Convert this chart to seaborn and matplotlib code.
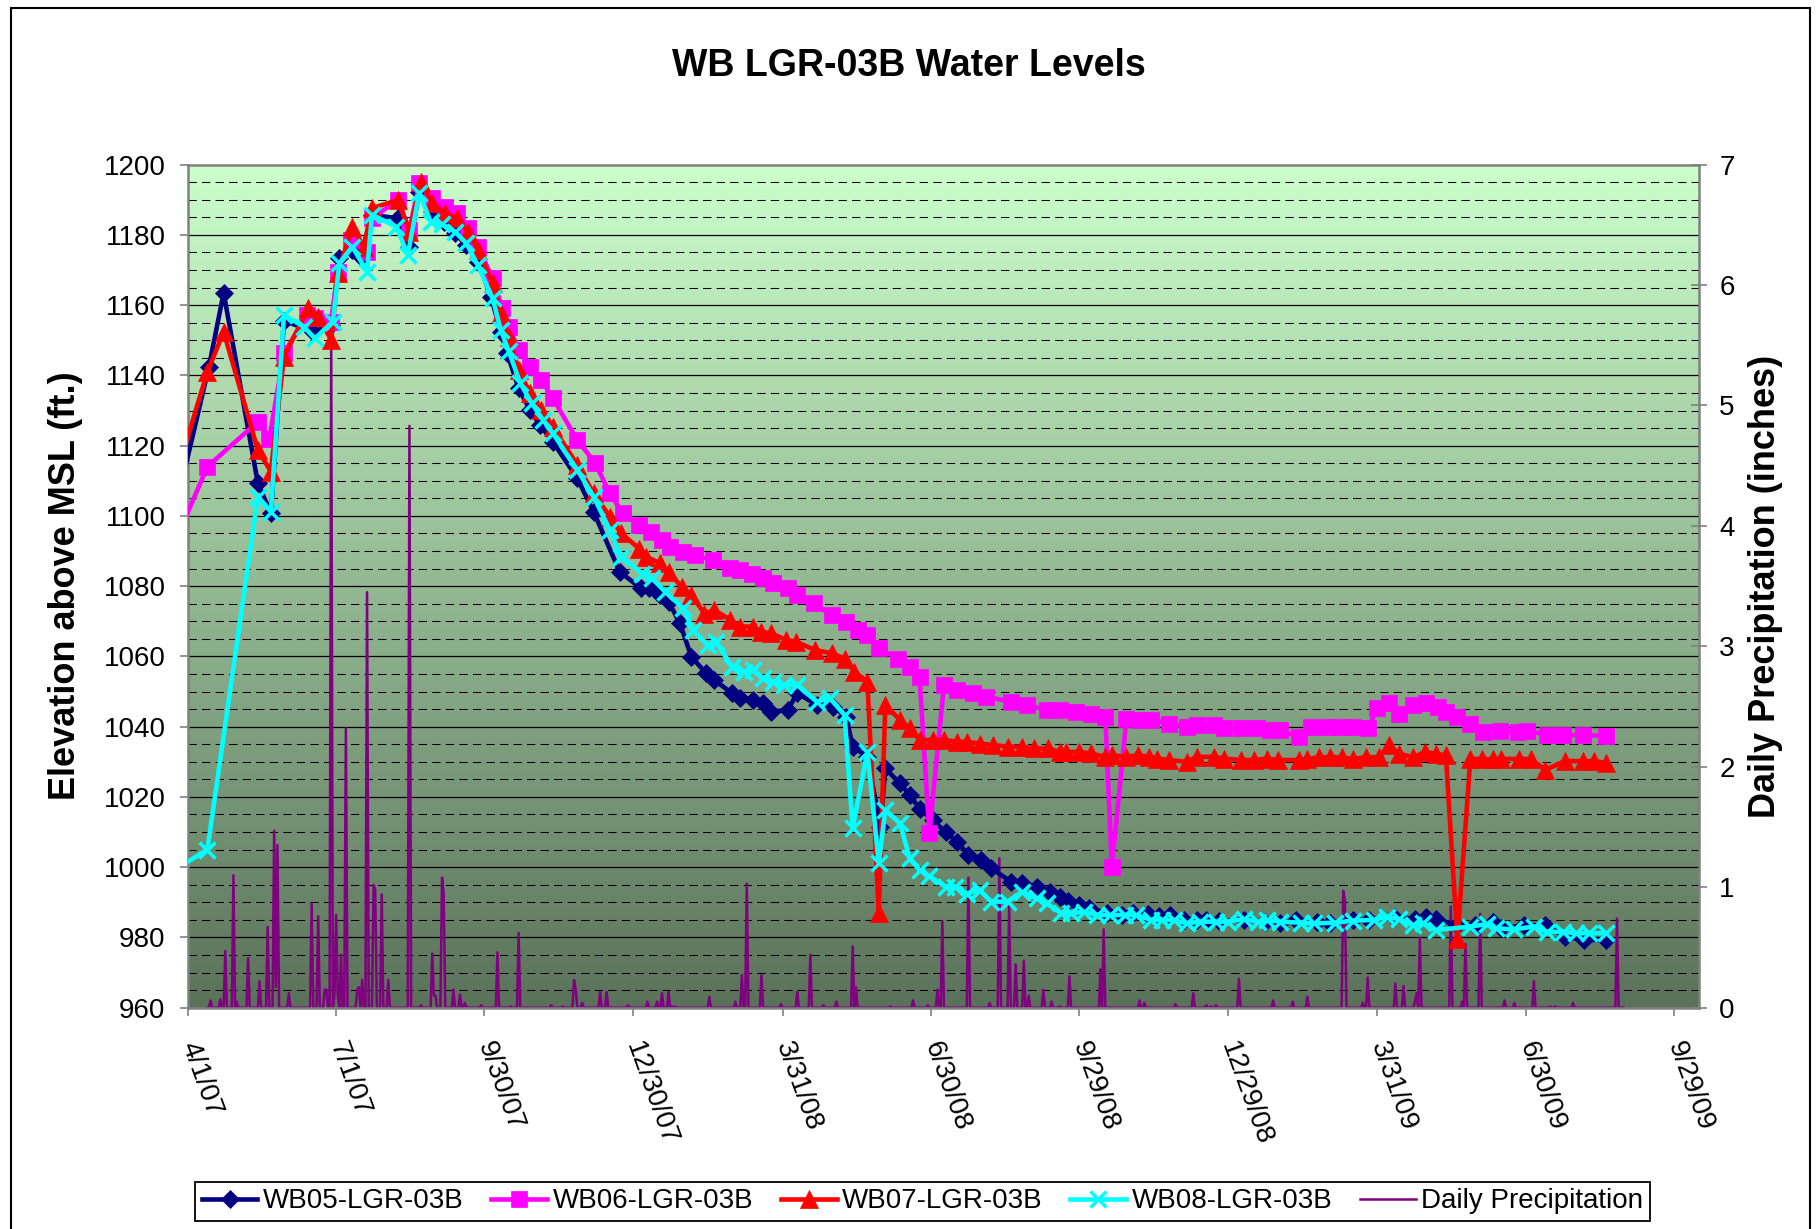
import numpy as np
import pandas as pd
import matplotlib
matplotlib.use("Agg")
import matplotlib.pyplot as plt
import matplotlib.patches as mpatches
import seaborn as sns

# ---------------- data ----------------
START = pd.Timestamp("2007-04-01")   # day 0 of all *_day arrays
X_END_DAY = 927                      # right end of the date axis

wb05_day = [-6, 13, 22, 43, 51, 59, 77, 88, 93, 101, 106, 113, 129, 136, 142, 150, 157, 164, 171, 178,
            186, 192, 196, 203, 210, 216, 224, 239, 249, 265, 278, 283, 290, 295, 302, 309, 318, 323,
            334, 339, 347, 353, 358, 368, 374, 386, 396, 404, 408, 417, 425, 428, 437, 443, 449, 457,
            465, 472, 479, 487, 493, 505, 512, 521, 529, 535, 540, 547, 553, 564, 573, 580, 589, 596,
            603, 611, 619, 625, 633, 648, 661, 670, 680, 693, 701, 715, 725, 740, 753, 760, 766, 779,
            790, 801, 806, 820, 833, 845, 857, 870]
wb05_ft = [1105, 1142.5, 1163.5, 1109.3, 1100.7, 1155.6, 1152.4, 1154.3, 1173.5, 1175.7, 1173.8, 1185.7,
           1184.7, 1176.6, 1192.3, 1185.6, 1183.7, 1180.5, 1177, 1172.4, 1162.4, 1152.4, 1146.3, 1136.3,
           1130.1, 1125.9, 1121.1, 1110.7, 1101.2, 1084.1, 1079.4, 1079.4, 1077.5, 1075.6, 1069.4,
           1059.9, 1055.2, 1053.3, 1049.5, 1048.1, 1047.6, 1046.6, 1044.3, 1044.7, 1049.5, 1046.2,
           1045.7, 1042.8, 1034.3, 1031.5, 1011.5, 1028.1, 1023.9, 1020.5, 1016.7, 1013.4, 1010,
           1007.3, 1003.5, 1002, 999.7, 995.9, 995.4, 994.5, 993, 991.6, 990.5, 989.2, 988.3, 987,
           986.5, 986.9, 986.8, 986, 986.3, 985.1, 985, 985, 984.6, 985, 984.5, 984, 985, 984.5, 984,
           985, 985, 985.9, 985.2, 985.7, 985.2, 983.5, 983.5, 984.5, 982.6, 983.5, 983.5, 980.2,
           979.3, 979.3]

wb06_day = [-6, 12, 43, 50, 59, 73, 78, 88, 92, 100, 110, 113, 129, 136, 142, 150, 158, 165, 172, 178,
            187, 193, 197, 203, 210, 217, 224, 239, 250, 259, 267, 277, 284, 291, 296, 304, 311, 322,
            333, 339, 346, 353, 359, 368, 374, 384, 395, 404, 411, 417, 424, 436, 443, 449, 455, 464,
            472, 482, 490, 505, 515, 527, 535, 545, 554, 563, 567, 576, 584, 591, 602, 613, 619, 630,
            636, 646, 656, 664, 670, 682, 689, 699, 707, 715, 724, 730, 737, 743, 752, 760, 767, 772,
            779, 787, 795, 805, 816, 822, 834, 844, 856, 870]
wb06_ft = [1094.5, 1114, 1126.8, 1122, 1146.3, 1157.2, 1156.3, 1155.3, 1169.5, 1178.5, 1175.2, 1184.7,
           1189.9, 1181.4, 1194.7, 1190.4, 1188, 1186.1, 1181.9, 1176.6, 1167.6, 1159.1, 1153.9,
           1147.2, 1142.5, 1138.7, 1133.5, 1121.6, 1115, 1106.4, 1100.7, 1097.4, 1095.5, 1093.1,
           1091.2, 1089.8, 1088.9, 1087.4, 1085.1, 1084.6, 1083.6, 1082.2, 1080.8, 1079.4, 1077.5,
           1075.1, 1071.8, 1069.9, 1067.5, 1066.1, 1062.3, 1059.4, 1057.1, 1054.2, 1009.6, 1051.8,
           1050.4, 1049.5, 1048.5, 1047.1, 1046.2, 1044.7, 1044.7, 1044.2, 1043.7, 1042.8, 1000.1,
           1042.3, 1041.9, 1041.9, 1040.9, 1040, 1040.4, 1040.4, 1039.5, 1039.5, 1039.5, 1039, 1039,
           1037.1, 1040, 1040, 1040, 1040, 1039.5, 1045.2, 1046.6, 1043.7, 1046.1, 1046.6, 1045.6,
           1044.2, 1042.8, 1040.9, 1038.4, 1038.9, 1038.4, 1038.9, 1037.6, 1037.6, 1037.6, 1037.4]

wb07_day = [-6, 12, 22, 43, 51, 59, 74, 80, 88, 92, 101, 108, 113, 129, 136, 143, 150, 158, 165, 172,
            178, 187, 192, 197, 203, 210, 217, 224, 239, 249, 259, 266, 277, 281, 290, 295, 303, 309,
            317, 323, 333, 339, 347, 352, 358, 367, 373, 385, 395, 403, 409, 417, 424, 428, 437, 443,
            449, 457, 464, 472, 478, 486, 494, 503, 512, 519, 528, 535, 539, 547, 554, 563, 567, 576,
            583, 590, 595, 602, 613, 619, 630, 636, 646, 654, 662, 669, 682, 687, 694, 701, 708, 715,
            723, 731, 737, 743, 752, 759, 766, 772, 779, 787, 794, 801, 806, 817, 824, 833, 845, 856,
            863, 870]
wb07_ft = [1113.3, 1141, 1152.4, 1118.7, 1112.6, 1145.3, 1159.1, 1156.7, 1150.1, 1169.1, 1182.3,
           1176.6, 1187.6, 1189.9, 1180.9, 1195.1, 1189, 1186.1, 1184.7, 1180.9, 1175.7, 1166.2,
           1157.7, 1151, 1141.5, 1134.9, 1130.1, 1125.4, 1114.5, 1106.4, 1099.8, 1095, 1090.7, 1088.4,
           1086.5, 1084.1, 1079.8, 1077.5, 1072.2, 1073.2, 1070.4, 1068.5, 1068.5, 1067, 1066.6,
           1064.7, 1064.2, 1061.8, 1060.9, 1059.4, 1055.6, 1052.8, 987, 1046.2, 1041.9, 1039.5,
           1036.2, 1036.2, 1036.2, 1035.7, 1035.7, 1035.2, 1034.8, 1034.3, 1034.3, 1033.8, 1033.8,
           1032.8, 1032.8, 1032.8, 1032.4, 1031.4, 1031.9, 1031.4, 1031.9, 1031.4, 1030.9, 1030.5,
           1030, 1031.4, 1031.4, 1030.9, 1030.5, 1030.5, 1030.9, 1030.5, 1030.5, 1030.8, 1031.3,
           1031.3, 1031.3, 1030.8, 1031.3, 1031.3, 1034.8, 1032.3, 1031.3, 1032.8, 1032.3, 1031.8,
           979.5, 1030.8, 1030.8, 1030.8, 1030.8, 1030.8, 1030.8, 1027.7, 1030.2, 1030.2, 1030.2,
           1029.7]

wb08_day = [-6, 12, 43, 51, 59, 71, 78, 89, 93, 101, 110, 113, 128, 135, 142, 149, 156, 164, 171, 178,
            187, 192, 197, 204, 211, 218, 224, 239, 249, 259, 266, 279, 285, 293, 304, 310, 319, 324,
            334, 341, 347, 353, 359, 366, 374, 386, 394, 403, 408, 417, 424, 428, 437, 443, 449, 455,
            465, 471, 478, 486, 493, 503, 512, 521, 527, 536, 542, 550, 558, 566, 575, 582, 591, 598,
            605, 613, 621, 631, 638, 648, 657, 662, 670, 683, 691, 704, 715, 728, 736, 743, 752, 758,
            766, 787, 797, 803, 814, 826, 834, 844, 852, 860, 870]
wb08_ft = [999.8, 1005, 1105.5, 1101.2, 1157.2, 1153.9, 1150.5, 1155.3, 1171.9, 1176.6, 1169.5, 1185.7,
           1182.3, 1174.3, 1192, 1183.7, 1183, 1180.9, 1177.6, 1171.3, 1162, 1153, 1146.8, 1137.8,
           1132.1, 1127.3, 1123.5, 1113.1, 1105.5, 1096, 1088.4, 1083.6, 1082.2, 1078.4, 1073.7,
           1067.5, 1063.2, 1064.2, 1057.1, 1055.7, 1056.1, 1053.8, 1052.8, 1051.9, 1051.9, 1047.1,
           1048.1, 1043.3, 1011.1, 1032.9, 1001.1, 1016.3, 1012.5, 1002.5, 999.2, 997.5, 994.4,
           994.4, 992.5, 993.5, 990.2, 990.2, 993, 991.1, 989.7, 986.9, 986.9, 987.3, 986.4, 986.4,
           986.4, 986.4, 985, 985, 985, 984, 984.5, 984.5, 984.5, 985.2, 984.5, 985, 984.5, 984.2,
           984, 984.2, 984.8, 985, 985.9, 985.2, 983.5, 984, 982.1, 983.1, 983.8, 982.6, 982.3, 983.1,
           981.6, 981.6, 981.2, 981.2, 981.2]

# daily precipitation: record runs from day 12 to day 881, rain days listed below (others are 0)
PRECIP_FIRST_DAY, PRECIP_LAST_DAY = 12, 881
rain_day = [14, 20, 23, 28, 30, 37, 44, 49, 53, 54, 55, 62, 76, 80, 84, 85, 88, 90, 91, 92, 94, 97,
            104, 105, 107, 110, 114, 115, 119, 123, 136, 143, 150, 151, 152, 156, 157, 163, 167, 170,
            180, 190, 198, 203, 223, 230, 237, 238, 242, 253, 257, 270, 282, 288, 291, 295, 297, 299,
            320, 336, 340, 343, 352, 364, 374, 382, 390, 398, 408, 410, 431, 445, 454, 460, 463, 479,
            492, 498, 504, 508, 513, 516, 525, 530, 535, 541, 560, 562, 584, 587, 606, 617, 625, 628,
            631, 645, 666, 678, 687, 709, 710, 721, 724, 741, 746, 753, 754, 756, 775, 782, 784, 793,
            808, 814, 826, 836, 839, 850, 877]
rain_in = [0.06, 0.07, 0.47, 1.10, 0.05, 0.41, 0.22, 0.67, 1.47, 0.17, 1.35, 0.12, 0.86, 0.76, 0.15,
           0.15, 5.6, 0.1, 0.77, 0.1, 0.44, 2.32, 0.15, 0.17, 0.23, 3.45, 1.02, 0.98, 0.94, 0.23, 4.83,
           0.02, 0.45, 0.1, 0.1, 1.08, 0.95, 0.15, 0.11, 0.04, 0.02, 0.46, 0.01, 0.62, 0.02, 0.01,
           0.23, 0.15, 0.04, 0.13, 0.13, 0.02, 0.05, 0.05, 0.12, 0.13, 0.01, 0.01, 0.09, 0.05, 0.27,
           1.03, 0.27, 0.03, 0.13, 0.44, 0.02, 0.05, 0.51, 0.17, 0.01, 0.06, 0.02, 0.15, 0.72, 1.08,
           0.04, 1.24, 0.85, 0.36, 0.39, 0.10, 0.15, 0.05, 0.01, 0.26, 0.32, 0.65, 0.06, 0.04, 0.03,
           0.12, 0.02, 0.01, 0.02, 0.24, 0.06, 0.05, 0.09, 0.97, 0.9, 0.04, 0.25, 0.2, 0.18, 0.05,
           0.12, 0.58, 0.84, 0.05, 0.53, 0.78, 0.06, 0.04, 0.22, 0.01, 0.01, 0.04, 0.74]

x_tick_labels = ["4/1/07", "7/1/07", "9/30/07", "12/30/07", "3/31/08", "6/30/08",
                 "9/29/08", "12/29/08", "3/31/09", "6/30/09", "9/29/09"]
x_tick_dates = ["2007-04-01", "2007-07-01", "2007-09-30", "2007-12-30", "2008-03-31", "2008-06-30",
                "2008-09-29", "2008-12-29", "2009-03-31", "2009-06-30", "2009-09-29"]
elev_ticks = [960, 980, 1000, 1020, 1040, 1060, 1080, 1100, 1120, 1140, 1160, 1180, 1200]
elev_minor_step = 5
precip_ticks = [0, 1, 2, 3, 4, 5, 6, 7]

series_names = ["WB05-LGR-03B", "WB06-LGR-03B", "WB07-LGR-03B", "WB08-LGR-03B"]
series_colors = ["#000080", "#FF00FF", "#FF0000", "#00FFFF"]
series_markers = ["D", "s", "^", "x"]
series_msize = [9, 12, 12.5, 11.5]
precip_color = "#800080"


def to_dates(days):
    return START + pd.to_timedelta(np.asarray(days, dtype=float), unit="D")


# ---------------- figure ----------------
plt.rcParams["font.family"] = ["Liberation Sans", "DejaVu Sans"]

W, H = 1818, 1229
fig = plt.figure(figsize=(W / 100, H / 100), dpi=100)
fig.patch.set_facecolor("white")

left, right, top, bottom = 187.8 / W, 1698.5 / W, 1 - 164.6 / H, 1 - 1007.7 / H
pos = [left, bottom, right - left, top - bottom]

# background: gradient + grid
bg = fig.add_axes(pos)
bg.set_zorder(0)
t = np.linspace(0, 1, 256)[:, None, None]
c_top = np.array([204, 255, 204]) / 255
c_bot = np.array([90, 114, 90]) / 255
grad = c_top[None, None, :] * (1 - t) + c_bot[None, None, :] * t
bg.imshow(grad, aspect="auto", extent=(0, 1, elev_ticks[0], elev_ticks[-1]),
          origin="upper", interpolation="bilinear")
for v in np.arange(elev_ticks[0], elev_ticks[-1], elev_minor_step):
    if v in elev_ticks:
        if v != elev_ticks[0]:
            bg.axhline(v, color="black", lw=0.9)
    else:
        bg.axhline(v, color="black", lw=0.75, linestyle=(0, (8, 5)))
bg.set_xlim(0, 1)
bg.set_ylim(elev_ticks[0], elev_ticks[-1])
bg.axis("off")

# precipitation axes (host, shares date axis)
axP = fig.add_axes(pos)
axP.set_zorder(1)
axP.patch.set_visible(False)

p_days = np.arange(PRECIP_FIRST_DAY, PRECIP_LAST_DAY + 1)
p_vals = np.zeros(len(p_days))
for d, v in zip(rain_day, rain_in):
    p_vals[d - PRECIP_FIRST_DAY] = v
sns.lineplot(x=to_dates(p_days), y=p_vals, ax=axP, color=precip_color, linewidth=1.8,
             estimator=None, sort=False, label="Daily Precipitation")

# water levels
axW = axP.twinx()
axW.set_zorder(2)
axW.patch.set_visible(False)
for name, days, vals, col, mk, ms in zip(
        series_names, [wb05_day, wb06_day, wb07_day, wb08_day],
        [wb05_ft, wb06_ft, wb07_ft, wb08_ft], series_colors, series_markers, series_msize):
    sns.lineplot(x=to_dates(days), y=vals, ax=axW, color=col, linewidth=3.3,
                 marker=mk, markersize=ms, markeredgecolor=col, markerfacecolor=col,
                 markeredgewidth=2.5 if mk == "x" else 0.5,
                 estimator=None, sort=False, label=name)

for a in (axP, axW):
    if a.get_legend() is not None:
        a.get_legend().remove()

# axes limits / ticks
axP.set_xlim(START, START + pd.Timedelta(days=X_END_DAY))
axP.set_ylim(precip_ticks[0], precip_ticks[-1])
axW.set_ylim(elev_ticks[0], elev_ticks[-1])

axP.yaxis.tick_right()
axP.yaxis.set_label_position("right")
axP.set_yticks(precip_ticks)
axP.set_yticklabels([str(v) for v in precip_ticks])
axP.tick_params(axis="y", direction="inout", length=12, width=1.2, color="#808080",
                pad=9, labelsize=20)

axW.yaxis.tick_left()
axW.yaxis.set_label_position("left")
axW.set_yticks(elev_ticks)
axW.set_yticklabels([str(v) for v in elev_ticks])
axW.tick_params(axis="y", direction="out", length=6, width=1.2, color="#808080",
                pad=10, labelsize=20)
axW.minorticks_off()

axP.set_xticks(pd.to_datetime(x_tick_dates))
axP.set_xticklabels(x_tick_labels, rotation=-70, ha="left", va="center",
                    rotation_mode="anchor", fontsize=20)
axP.tick_params(axis="x", direction="out", length=6, width=1.2, color="#808080", pad=19)
axP.minorticks_off()
axP.set_xlabel("")

axW.set_ylabel("Elevation above MSL (ft.)", fontsize=26, fontweight="bold", va="center")
axW.yaxis.set_label_coords((66 - 187.8) / (1698.5 - 187.8), 0.5)
axP.set_ylabel("Daily Precipitation (inches)", fontsize=26, fontweight="bold", va="center",
               rotation=90)
axP.yaxis.set_label_coords((1766 - 187.8) / (1698.5 - 187.8), 0.5)

for s in axP.spines.values():
    s.set_color("#808080")
    s.set_linewidth(1.8)
for s in axW.spines.values():
    s.set_visible(False)

# title
fig.text(0.5, 1 - 66 / H, "WB LGR-03B Water Levels", ha="center", va="center",
         fontsize=27, fontweight="bold")

# legend
hW, lW = axW.get_legend_handles_labels()
hP, lP = axP.get_legend_handles_labels()
leg = fig.legend(hW + hP, lW + lP, loc="center", bbox_to_anchor=(922.5 / W, 1 - 1201.5 / H),
                 ncol=5, fontsize=20, frameon=True, fancybox=False, edgecolor="black",
                 handlelength=2.0, handletextpad=0.2, columnspacing=1.0, borderpad=0.25,
                 framealpha=1)
leg.get_frame().set_linewidth(1.3)

# outer chart frame
fig.add_artist(mpatches.Rectangle((11 / W, -0.05), (1810 - 11) / W, 1.05 - 8 / H,
                                  transform=fig.transFigure, fill=False,
                                  edgecolor="black", linewidth=1.5))

fig.savefig("out.png", dpi=100)
